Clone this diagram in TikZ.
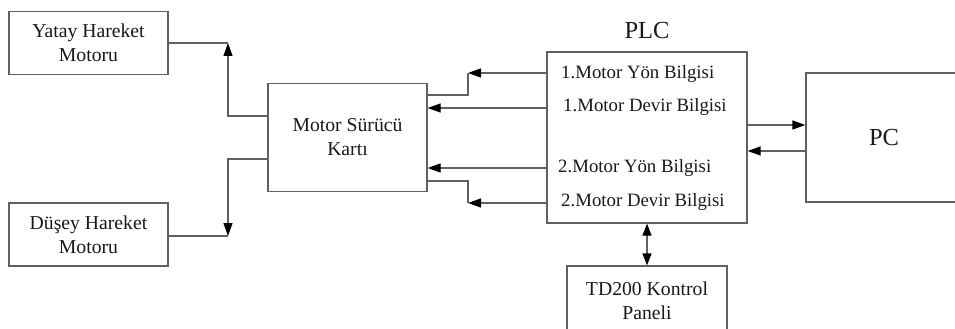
\documentclass[tikz,border=0pt]{standalone}
\usepackage{fontspec}
\setmainfont{Liberation Serif}
\usetikzlibrary{arrows.meta}
\begin{document}
\begin{tikzpicture}[x=1pt,y=-1pt,
  line/.style={draw=black!62,line width=1.25pt},
  arr/.style={line,-{Triangle[length=13pt,width=9pt,color=black]}},
  darr/.style={line,{Triangle[length=12pt,width=9pt,color=black]}-{Triangle[length=12pt,width=9pt,color=black]}},
  blk/.style={draw=black!62,line width=1.25pt,inner sep=0pt,align=center,text=black!90,
    font=\fontsize{19.7}{24}\selectfont},
  lbl/.style={inner sep=0pt,anchor=west,text=black!90,font=\fontsize{18.8}{22}\selectfont}]
\useasboundingbox (0,0) rectangle (955,329);
\clip (0,0) rectangle (955,329);
\fill[white] (0,0) rectangle (955,329);
% boxes
\node[blk,minimum width=159pt,minimum height=63pt] (yat) at (88.5,43) {Yatay Hareket\\Motoru};
\node[blk,minimum width=159pt,minimum height=63pt] (dus) at (88.5,234.5) {Düşey Hareket\\Motoru};
\node[blk,minimum width=159pt,minimum height=108pt] (card) at (347.5,137.5) {Motor Sürücü\\Kartı};
\node[blk,minimum width=200pt,minimum height=171pt] (plc) at (647,137.5) {};
\node[inner sep=0pt,text=black!90,font=\fontsize{24.5}{28}\selectfont] (plct) at (647,31) {PLC};
\node[blk,minimum width=156pt,minimum height=129pt,font=\fontsize{24.5}{28}\selectfont] (pc) at (884,137.5) {PC};
\node[blk,minimum width=160pt,minimum height=70pt] (td) at (647,301) {TD200 Kontrol\\Paneli};
% PLC texts
\node[lbl] (t1) at (561,74) {1.Motor Yön Bilgisi};
\node[lbl] (t2) at (563,107) {1.Motor Devir Bilgisi};
\node[lbl] (t3) at (558,168) {2.Motor Yön Bilgisi};
\node[lbl] (t4) at (561,202) {2.Motor Devir Bilgisi};
% helper coordinates
\coordinate (ya) at (228,43);
\coordinate (da) at (228,236);
\coordinate (s1) at (468,73);
\coordinate (s4) at (468,203);
% card to motors
\draw[arr] ([yshift=21.5pt]card.west) -| (ya);
\draw[line] (yat.east) -- (ya);
\draw[arr] ([yshift=-21.5pt]card.west) -| (da);
\draw[line] ([yshift=-1.5pt]dus.east) -- (da);
% PLC to card
\draw[arr] ([yshift=64.5pt]plc.west) -- (s1);
\draw[line] (s1) |- ([yshift=42.5pt]card.east);
\draw[arr] ([yshift=29.5pt]plc.west) -- ([yshift=29.5pt]card.east);
\draw[arr] ([yshift=-30.5pt]plc.west) -- ([yshift=-30.5pt]card.east);
\draw[arr] ([yshift=-65.5pt]plc.west) -- (s4);
\draw[line] (s4) |- ([yshift=-43.5pt]card.east);
% PLC <-> PC
\draw[arr] ([yshift=12.5pt]plc.east) -- ([yshift=12.5pt]pc.west);
\draw[arr] ([yshift=-13.5pt]pc.west) -- ([yshift=-13.5pt]plc.east);
% PLC <-> TD200
\draw[darr] (plc.south) -- (td.north);
\end{tikzpicture}
\end{document}
